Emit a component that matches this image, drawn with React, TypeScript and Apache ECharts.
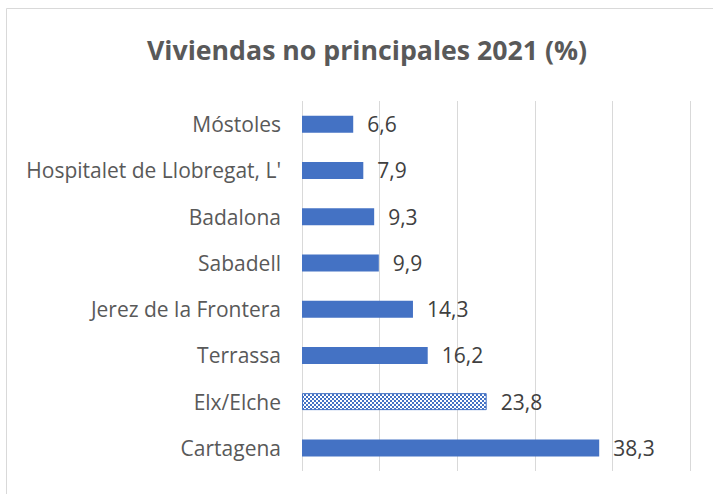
import React, { useEffect, useRef } from "react";
import * as echarts from "echarts";

const categories = [
  "Móstoles",
  "Hospitalet de Llobregat, L'",
  "Badalona",
  "Sabadell",
  "Jerez de la Frontera",
  "Terrassa",
  "Elx/Elche",
  "Cartagena",
];
const values = [6.6, 7.9, 9.3, 9.9, 14.3, 16.2, 23.8, 38.3];
const highlighted = "Elx/Elche";
const titleText = "Viviendas no principales 2021 (%)";

function makePattern(): HTMLCanvasElement {
  const c = document.createElement("canvas");
  c.width = 4;
  c.height = 4;
  const ctx = c.getContext("2d")!;
  ctx.fillStyle = "#4472c4";
  ctx.fillRect(0, 0, 4, 4);
  ctx.fillStyle = "#ffffff";
  ctx.fillRect(0, 0, 2, 2);
  ctx.fillRect(2, 2, 2, 2);
  return c;
}

export default function App() {
  const ref = useRef<HTMLDivElement>(null);
  useEffect(() => {
    document.body.style.margin = "0";
    const chart = echarts.init(ref.current!, null, { renderer: "svg" });
    const pattern = makePattern();
    const data = values.map((v, i) =>
      categories[i] === highlighted
        ? {
            value: v,
            itemStyle: {
              color: { image: pattern, repeat: "repeat" },
              borderColor: "#4472c4",
              borderWidth: 1,
            },
          }
        : { value: v }
    );
    chart.setOption({
      animation: false,
      backgroundColor: "#ffffff",
      title: {
        text: titleText,
        left: 142,
        top: 31,
        textStyle: {
          fontFamily: "Open Sans",
          fontSize: 26.7,
          fontWeight: "bold",
          color: "#595959",
        },
      },
      graphic: [
        {
          type: "rect",
          shape: { x: 6.5, y: 8.5, width: 730, height: 500 },
          style: { fill: "none", stroke: "#d9d9d9", lineWidth: 1 },
          silent: true,
        },
      ],
      grid: { left: 302, right: 23, top: 101, bottom: 23 },
      xAxis: {
        type: "value",
        min: 0,
        max: 50,
        interval: 10,
        axisLabel: { show: false },
        axisLine: { show: false },
        axisTick: { show: false },
        splitLine: { lineStyle: { color: "#d9d9d9", width: 1 } },
      },
      yAxis: {
        type: "category",
        inverse: true,
        data: categories,
        axisLine: { show: false },
        axisTick: { show: false },
        axisLabel: {
          margin: 21,
          fontFamily: "Open Sans",
          fontSize: 21,
          color: "#595959",
        },
      },
      series: [
        {
          type: "bar",
          data,
          barWidth: 17,
          itemStyle: { color: "#4472c4" },
          label: {
            show: true,
            position: "right",
            distance: 14,
            fontFamily: "Open Sans",
            fontSize: 21,
            color: "#404040",
            formatter: (p: any) => String(p.value).replace(".", ","),
          },
        },
      ],
    });
    return () => chart.dispose();
  }, []);
  return <div ref={ref} style={{ width: 713, height: 494 }} />;
}
